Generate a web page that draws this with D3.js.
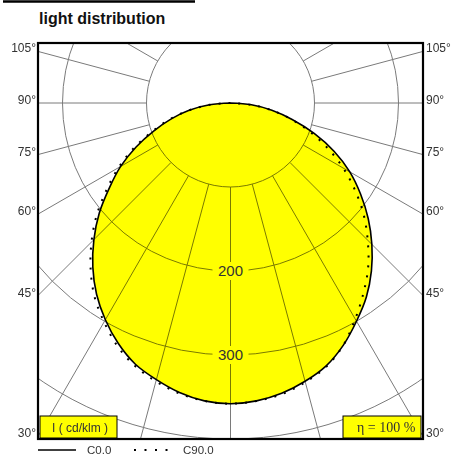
<!DOCTYPE html>
<html>
<head>
<meta charset="utf-8">
<script src="https://cdn.jsdelivr.net/npm/d3@7"></script>
<style>
  body { margin: 0; background: #fff; }
  svg { display: block; font-family: "Liberation Sans", Arial, sans-serif; }
</style>
</head>
<body>
<script>
// gamma angles (deg from nadir) and intensities in cd/klm
var gammas = [0, 5, 10, 15, 20, 25, 30, 35, 40, 45, 50, 55, 60, 65, 70, 75, 80, 85, 90];
var c0   = [358, 356, 351, 343, 333, 318, 300, 282, 261, 238, 214, 189, 164, 136, 106, 76, 50, 25, 0];
var c180 = [358, 356, 350, 341, 331, 316, 298, 278, 255, 230, 204, 176, 151, 124, 97, 73, 50, 25, 0];
var c90  = [358, 356, 352, 344, 334, 318, 297, 276, 255, 231, 207, 181, 155, 128, 101, 75, 50, 25, 0];
var c270 = [358, 356, 351, 343, 333, 319, 301, 282, 259, 234, 208, 180, 154, 127, 99, 75, 50, 25, 0];

var rings = [100, 200, 300, 400];
var ringLabels = [200, 300];
var sideLabels = [105, 90, 75, 60, 45, 30];
var spokes = d3.range(0, 360, 15);

var width = 453, height = 457;
var frame = {x0: 38, x1: 423, y0: 43, y1: 439};
var cx = 230.5, cy = 103;

var r = d3.scaleLinear().domain([0, 400]).range([0, 336]);
var rad = Math.PI / 180;

var svg = d3.select("body").append("svg")
    .attr("width", width)
    .attr("height", height);

svg.append("defs").append("clipPath")
    .attr("id", "frameClip")
    .append("rect")
    .attr("x", frame.x0).attr("y", frame.y0)
    .attr("width", frame.x1 - frame.x0)
    .attr("height", frame.y1 - frame.y0);

// title + rule above it
svg.append("line")
    .attr("x1", 3).attr("x2", 195).attr("y1", 1.5).attr("y2", 1.5)
    .attr("stroke", "#000").attr("stroke-width", 2.5);
svg.append("text")
    .attr("x", 39).attr("y", 24)
    .attr("font-size", 16).attr("font-weight", "bold")
    .attr("fill", "#111")
    .text("light distribution");

var plot = svg.append("g")
    .attr("clip-path", "url(#frameClip)");
var g = plot.append("g")
    .attr("transform", "translate(" + cx + "," + cy + ")");

// half plane -> points for lineRadial (left side gets negative gamma)
function halfPoints(vals, side) {
    return gammas.map(function(gm, i) {
        var a = side * gm;
        return [Math.PI - a * rad, r(vals[i])];
    });
}
function plane(right, left) {
    return halfPoints(left, -1).reverse().concat(halfPoints(right, 1).slice(1));
}

var radial = d3.lineRadial()
    .angle(function(d) { return d[0]; })
    .radius(function(d) { return d[1]; })
    .curve(d3.curveCatmullRom);

var solidPts = plane(c0, c180);
var dotPts = plane(c90, c270);

// yellow area
g.append("path")
    .attr("d", radial(solidPts) + "Z")
    .attr("fill", "#ffff00");

// grid on top, multiplied so it turns olive inside the yellow
var grid = g.append("g")
    .style("mix-blend-mode", "multiply")
    .attr("stroke", "#7a7a7a")
    .attr("stroke-width", 1)
    .attr("fill", "none");

grid.selectAll("circle")
    .data(rings)
    .enter()
    .append("circle")
    .attr("r", function(d) { return r(d); });

grid.selectAll("line")
    .data(spokes)
    .enter()
    .append("line")
    .attr("x1", function(d) { return r(100) * Math.sin(d * rad); })
    .attr("y1", function(d) { return r(100) * Math.cos(d * rad); })
    .attr("x2", function(d) { return 700 * Math.sin(d * rad); })
    .attr("y2", function(d) { return 700 * Math.cos(d * rad); });

// ring labels on the nadir axis
var rl = g.selectAll(".ringlabel")
    .data(ringLabels)
    .enter()
    .append("g")
    .attr("transform", function(d) { return "translate(0," + r(d) + ")"; });
rl.append("rect")
    .attr("x", -18).attr("y", -9)
    .attr("width", 36).attr("height", 18)
    .attr("fill", "#ffff00");
rl.append("text")
    .attr("text-anchor", "middle")
    .attr("dy", "0.36em")
    .attr("font-size", 15)
    .attr("fill", "#333")
    .text(function(d) { return d; });

// curves
g.append("path")
    .attr("d", radial(dotPts))
    .attr("fill", "none")
    .attr("stroke", "#000")
    .attr("stroke-width", 2)
    .attr("stroke-dasharray", "2,8");

g.append("path")
    .attr("d", radial(solidPts))
    .attr("fill", "none")
    .attr("stroke", "#000")
    .attr("stroke-width", 1.6);

// frame
svg.append("rect")
    .attr("x", frame.x0).attr("y", frame.y0)
    .attr("width", frame.x1 - frame.x0)
    .attr("height", frame.y1 - frame.y0)
    .attr("fill", "none")
    .attr("stroke", "#000")
    .attr("stroke-width", 2.2);

// angle labels at the spoke ends on both sides
function spokeEndY(a) {
    var t = (frame.x1 - cx) / Math.sin(a * rad);
    return Math.min(cy + t * Math.cos(a * rad), frame.y1);
}
svg.selectAll(".lab-l")
    .data(sideLabels)
    .enter()
    .append("text")
    .attr("x", 36)
    .attr("y", function(d) { return spokeEndY(d) + 1; })
    .attr("text-anchor", "end")
    .attr("font-size", 12)
    .attr("fill", "#333")
    .text(function(d) { return d + "°"; });
svg.selectAll(".lab-r")
    .data(sideLabels)
    .enter()
    .append("text")
    .attr("x", 426)
    .attr("y", function(d) { return spokeEndY(d) + 1; })
    .attr("font-size", 12)
    .attr("fill", "#333")
    .text(function(d) { return d + "°"; });

// unit and efficiency boxes
svg.append("rect")
    .attr("x", 40).attr("y", 416).attr("width", 77).attr("height", 22)
    .attr("fill", "#ffff00").attr("stroke", "#000").attr("stroke-width", 1);
svg.append("text")
    .attr("x", 52).attr("y", 432)
    .attr("font-size", 12).attr("fill", "#333")
    .text("I ( cd/klm )");

svg.append("rect")
    .attr("x", 343).attr("y", 416).attr("width", 78).attr("height", 22)
    .attr("fill", "#ffff00").attr("stroke", "#000").attr("stroke-width", 1);
svg.append("text")
    .attr("x", 357).attr("y", 432)
    .attr("font-size", 14)
    .attr("font-family", "'Liberation Serif', 'Times New Roman', serif")
    .attr("fill", "#333")
    .text("η = 100 %");

// legend
svg.append("line")
    .attr("x1", 38).attr("x2", 76).attr("y1", 450).attr("y2", 450)
    .attr("stroke", "#000").attr("stroke-width", 1.6);
svg.append("text")
    .attr("x", 87).attr("y", 454)
    .attr("font-size", 11.5).attr("fill", "#333")
    .text("C0.0");
svg.append("line")
    .attr("x1", 134).attr("x2", 170).attr("y1", 450).attr("y2", 450)
    .attr("stroke", "#000").attr("stroke-width", 2)
    .attr("stroke-dasharray", "2,8.5");
svg.append("text")
    .attr("x", 183).attr("y", 454)
    .attr("font-size", 11.5).attr("fill", "#333")
    .text("C90.0");
</script>
</body>
</html>
